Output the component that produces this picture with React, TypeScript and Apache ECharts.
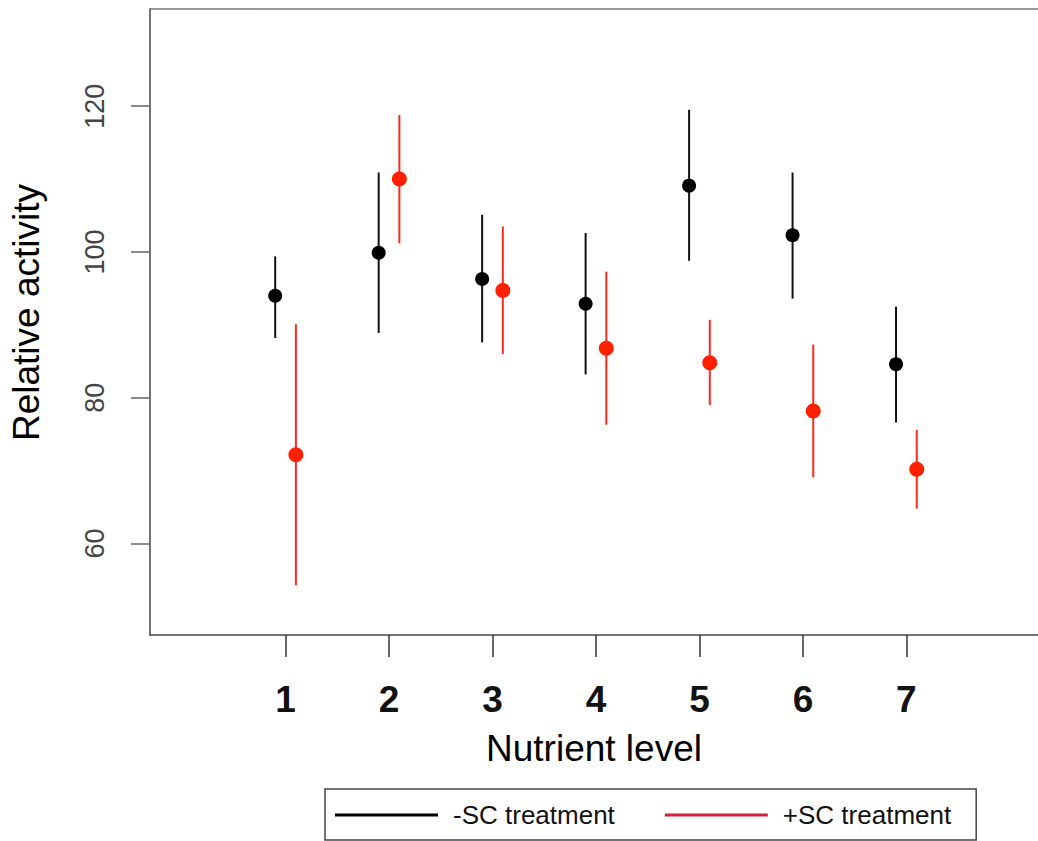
import React, { useEffect, useRef } from "react";
import * as echarts from "echarts";

const levels = [1, 2, 3, 4, 5, 6, 7];
const xTicks = [1, 2, 3, 4, 5, 6, 7];
const yTicks = [60, 80, 100, 120];

const minusName = "-SC treatment";
const plusName = "+SC treatment";

const minusMean = [94.0, 99.9, 96.3, 92.9, 109.1, 102.3, 84.6];
const minusLow = [88.2, 88.9, 87.6, 83.2, 98.8, 93.6, 76.6];
const minusHigh = [99.4, 110.9, 105.1, 102.6, 119.5, 110.9, 92.5];

const plusMean = [72.2, 110.0, 94.7, 86.8, 84.8, 78.2, 70.2];
const plusLow = [54.3, 101.2, 86.0, 76.3, 79.0, 69.1, 64.8];
const plusHigh = [90.1, 118.8, 103.5, 97.3, 90.7, 87.3, 75.6];

const DODGE = 0.1;
const X_MIN = -0.31;
const X_MAX = 8.272;
const FONT = "'Liberation Sans', Arial, Helvetica, sans-serif";

function errorSeries(name: string, low: number[], high: number[], off: number, color: string) {
  return {
    name,
    type: "custom",
    xAxisIndex: 0,
    data: levels.map((lv, i) => [lv + off, low[i], high[i]]),
    encode: { x: 0, y: [1, 2] },
    renderItem: (params: any, api: any) => {
      const x = api.value(0);
      const p1 = api.coord([x, api.value(1)]);
      const p2 = api.coord([x, api.value(2)]);
      return {
        type: "line",
        shape: { x1: p1[0], y1: p1[1], x2: p2[0], y2: p2[1] },
        style: { stroke: color, lineWidth: 2 },
      };
    },
    z: 2,
  };
}

export default function App() {
  const ref = useRef<HTMLDivElement>(null);
  useEffect(() => {
    if (!ref.current) return;
    const chart = echarts.init(ref.current, null, { renderer: "svg" });
    chart.setOption({
      animation: false,
      backgroundColor: "#fff",
      textStyle: { fontFamily: FONT },
      grid: {
        left: 148,
        top: 9,
        right: 0,
        height: 626,
        show: false,
      },
      legend: {
        left: 325,
        top: 789,
        orient: "horizontal",
        icon: "rect",
        itemWidth: 103,
        itemHeight: 3,
        itemGap: 50,
        borderColor: "#444",
        borderWidth: 1.5,
        borderRadius: 0,
        padding: [11, 25, 10, 10],
        selectedMode: false,
        textStyle: {
          fontFamily: FONT,
          fontSize: 26,
          color: "#111",
          lineHeight: 30,
          padding: [0, 0, 0, 10],
        },
        data: [
          { name: minusName, itemStyle: { color: "#000" } },
          { name: plusName, itemStyle: { color: "#d0223a" } },
        ],
      },
      xAxis: [
        {
          type: "value",
          position: "bottom",
          min: X_MIN,
          max: X_MAX,
          name: "Nutrient level",
          nameLocation: "middle",
          nameGap: 95,
          nameTextStyle: { fontFamily: FONT, fontSize: 37, color: "#000" },
          axisLine: { show: true, onZero: false, lineStyle: { color: "#444", width: 1.5 } },
          splitLine: { show: false },
          axisTick: {
            show: true,
            customValues: xTicks,
            length: 22,
            lineStyle: { color: "#333", width: 1.5 },
          },
          axisLabel: {
            customValues: xTicks,
            margin: 46,
            fontFamily: FONT,
            fontSize: 37,
            fontWeight: "bold",
            color: "#111",
          },
        },
        {
          type: "value",
          position: "top",
          min: X_MIN,
          max: X_MAX,
          axisLine: { show: true, onZero: false, lineStyle: { color: "#777", width: 1.5 } },
          splitLine: { show: false },
          axisTick: { show: false },
          axisLabel: { show: false },
        },
      ],
      yAxis: {
        type: "value",
        min: 47.46,
        max: 133.33,
        name: "Relative activity",
        nameLocation: "middle",
        nameGap: 105,
        nameTextStyle: { fontFamily: FONT, fontSize: 37, color: "#000", padding: [0, 0, 0, 19] },
        axisLine: { show: true, onZero: false, lineStyle: { color: "#444", width: 1.5 } },
        splitLine: { show: false },
        axisTick: {
          show: true,
          customValues: yTicks,
          length: 19,
          lineStyle: { color: "#666", width: 1.5 },
        },
        axisLabel: {
          customValues: yTicks,
          rotate: 90,
          margin: 42,
          fontFamily: FONT,
          fontSize: 27,
          color: "#444",
        },
      },
      series: [
        errorSeries(minusName, minusLow, minusHigh, -DODGE, "#111"),
        errorSeries(plusName, plusLow, plusHigh, DODGE, "#ff2a1a"),
        {
          name: minusName,
          type: "scatter",
          symbol: "circle",
          symbolSize: 14,
          itemStyle: { color: "#000", opacity: 1 },
          data: levels.map((lv, i) => [lv - DODGE, minusMean[i]]),
          z: 3,
        },
        {
          name: plusName,
          type: "scatter",
          symbol: "circle",
          symbolSize: 15,
          itemStyle: { color: "#ff2000", opacity: 1 },
          data: levels.map((lv, i) => [lv + DODGE, plusMean[i]]),
          z: 3,
        },
      ],
    });
    return () => chart.dispose();
  }, []);
  return (
    <div
      ref={ref}
      style={{ position: "absolute", left: 0, top: 0, width: 1038, height: 841 }}
    />
  );
}
